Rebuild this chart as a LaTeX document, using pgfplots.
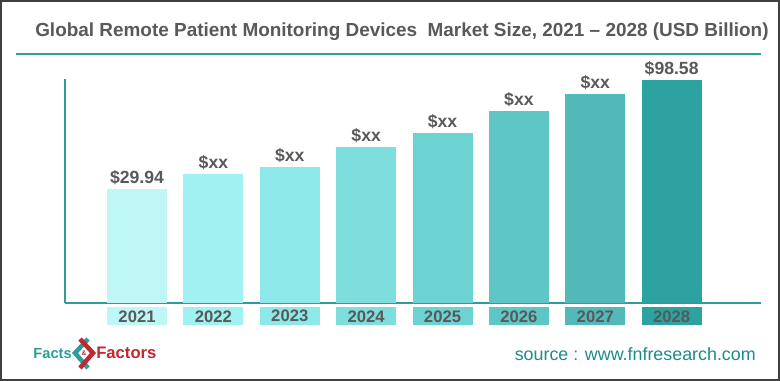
\documentclass[border=0pt]{standalone}
\usepackage{pgfplots}
\pgfplotsset{compat=1.18}
\usepackage{fontspec}
\setmainfont{Liberation Sans}
\newlength{\px}\setlength{\px}{0.75pt}
\definecolor{c1}{HTML}{BEF7F5}
\definecolor{c2}{HTML}{A0F1F1}
\definecolor{c3}{HTML}{8DE9E9}
\definecolor{c4}{HTML}{7EDEDE}
\definecolor{c5}{HTML}{6CD2D2}
\definecolor{c6}{HTML}{5EC6C5}
\definecolor{c7}{HTML}{53B9B8}
\definecolor{c8}{HTML}{2CA3A1}
\definecolor{txt}{HTML}{595959}
\definecolor{axc}{HTML}{2E9D9A}
\definecolor{frame}{HTML}{404040}
\definecolor{src}{HTML}{1F8A8B}
\definecolor{logored}{HTML}{C0282D}
\newcommand{\yb}[2]{{\setlength{\fboxsep}{0pt}\colorbox{#1}{\parbox[c][18\px][c]{60\px}{\centering #2}}}}
\begin{document}
\begin{tikzpicture}[x=0.75pt,y=0.75pt]
\path[use as bounding box] (0,0) rectangle (780,381);
\fill[white] (0,0) rectangle (780,381);
\draw[frame, line width=2\px] (1,1) rectangle (779,380);
% title
\node[anchor=base west, inner sep=0pt, text=txt, font=\fontsize{14.2pt}{17pt}\selectfont\bfseries] at (35,344) {Global Remote Patient Monitoring Devices\ \ Market Size, 2021 -- 2028 (USD Billion)};
\draw[axc, line width=2\px] (16,327) -- (761,327);
\begin{axis}[
  at={(48.75pt,58.5pt)}, anchor=south west,
  scale only axis, width=522pt, height=168pt,
  xmin=-0.943, xmax=8.17, ymin=0, ymax=141.05,
  y filter/.expression={y+41.85},
  axis x line*=bottom, axis y line*=left,
  axis line style={draw=axc, line width=2\px, -},
  ytick=\empty,
  xtick={0,1,2,3,4,5,6,7},
  xticklabels={{\yb{c1}{2021}},{\yb{c2}{2022}},{\yb{c3}{2023}},{\yb{c4}{2024}},{\yb{c5}{2025}},{\yb{c6}{2026}},{\yb{c7}{2027}},{\yb{c8}{2028}}},
  xticklabel style={inner sep=0pt, anchor=north, yshift=-4\px, text=txt, font=\fontsize{12.5pt}{14pt}\selectfont\bfseries},
  major tick length=0pt,
  ybar, bar width=60\px, bar shift=0pt,
  clip=false,
  nodes near coords style={anchor=south, inner sep=0pt, yshift=4\px, text=txt, font=\fontsize{13.2pt}{15pt}\selectfont\bfseries},
]
\addplot[fill=c1, draw=none, nodes near coords={\$29.94}] coordinates {(0,29.94)};
\addplot[fill=c2, draw=none, nodes near coords={\$xx}] coordinates {(1,39.38)};
\addplot[fill=c3, draw=none, nodes near coords={\$xx}] coordinates {(2,43.79)};
\addplot[fill=c4, draw=none, nodes near coords={\$xx}] coordinates {(3,56.38)};
\addplot[fill=c5, draw=none, nodes near coords={\$xx}] coordinates {(4,65.20)};
\addplot[fill=c6, draw=none, nodes near coords={\$xx}] coordinates {(5,79.05)};
\addplot[fill=c7, draw=none, nodes near coords={\$xx}] coordinates {(6,89.76)};
\addplot[fill=c8, draw=none, nodes near coords={\$98.58}] coordinates {(7,98.58)};
\end{axis}
% logo
\node[anchor=base east, inner sep=0pt, text=axc, font=\fontsize{11pt}{12pt}\selectfont\bfseries] at (72,22) {Facts};
\draw[axc, line width=4.5\px] (88,42) -- (75,28) -- (88,13);
\draw[logored, line width=4.5\px] (80,42) -- (93,28) -- (80,13);
\node[inner sep=0pt, text=logored, font=\fontsize{5pt}{6pt}\selectfont\bfseries] at (84,28) {\&};
\node[anchor=base west, inner sep=0pt, text=logored, font=\fontsize{12.5pt}{14pt}\selectfont\bfseries] at (96,22) {Factors};
% source
\node[anchor=base east, inner sep=0pt, text=src, font=\fontsize{13.4pt}{16pt}\selectfont] at (756,20) {source : www.fnfresearch.com};
\end{tikzpicture}
\end{document}
